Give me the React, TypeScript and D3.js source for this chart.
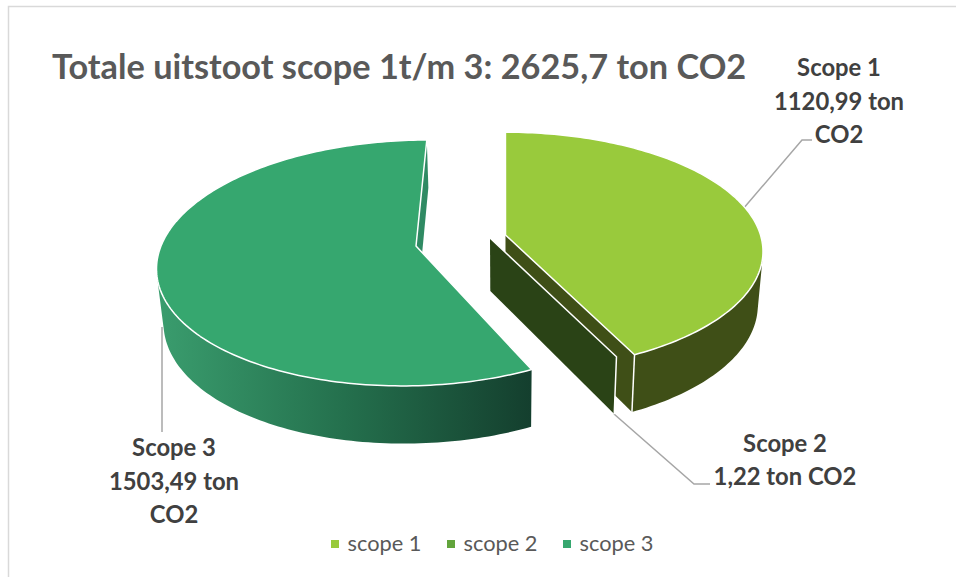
import React from "react";
import * as d3 from "d3";

const categories = ["scope 1", "scope 2", "scope 3"];
const values = [1120.99, 1.22, 1503.49];
const titleText = "Totale uitstoot scope 1t/m 3: 2625,7 ton CO2";
const dataLabels = [
  ["Scope 1", "1120,99 ton", "CO2"],
  ["Scope 2", "1,22 ton CO2"],
  ["Scope 3", "1503,49 ton", "CO2"],
];
const legendColors = ["#99ca3c", "#62a43c", "#36a76f"];

const W = 956;
const H = 577;
const FONT = "Lato, Carlito, 'Open Sans', sans-serif";
const RADIUS = 255;
const PERSPECTIVE = 0.138;
const VANISH_X = 505;
const BOTTOM_SCALE = 0.98;

// Placement of each exploded slice: apex on screen and vertical radius.
const sliceFrames = [
  { ax: 505.5, ay: 235, ky: 117 },
  { ax: 490, ay: 238, ky: 116 },
  { ax: 416, ay: 246, ky: 120.6 },
];

type Frame = { ax: number; ay: number; ky: number };
type Pt = [number, number];

function project(f: Frame, theta: number, r: number, bottom: boolean): Pt {
  const u = Math.sin(theta) * r;
  const v = -Math.cos(theta) * r;
  const s = (1 / (1 - PERSPECTIVE * v)) * (bottom ? BOTTOM_SCALE : 1);
  const x = VANISH_X + (f.ax - VANISH_X + RADIUS * u) * s;
  const depth = bottom ? 53 + 7.5 * v : 0;
  const y = f.ay + f.ky * v * s + depth;
  return [x, y];
}

const pathOf = d3.line<Pt>().x((d) => d[0]).y((d) => d[1]);

function rim(f: Frame, a0: number, a1: number, bottom: boolean): Pt[] {
  const n = Math.max(2, Math.ceil(Math.abs(a1 - a0) / 0.02));
  const t = d3.scaleLinear().domain([0, n]).range([a0, a1]);
  return d3.range(n + 1).map((i) => project(f, t(i), 1, bottom));
}

// The side wall is swept between the two rims, so its silhouette includes the tangent edge.
// All quads share one path and one winding, so no seams appear between them.
function sidePath(f: Frame, a0: number, a1: number): string {
  const top = rim(f, a0, a1, false);
  const bot = rim(f, a0, a1, true);
  return d3
    .range(top.length - 1)
    .map((i) => {
      const q: Pt[] = [top[i], top[i + 1], bot[i + 1], bot[i]];
      return pathOf(d3.polygonArea(q) < 0 ? q.reverse() : q)! + "Z";
    })
    .join("");
}

const arcs = d3.pie<number>().sort(null).value((d) => d)(values);

export default function App() {
  const [s1, s2, s3] = arcs;
  const [f1, f2, f3] = sliceFrames;

  const top1 = [project(f1, 0, 0, false), ...rim(f1, s1.startAngle, s1.endAngle, false)];
  const side1 = sidePath(f1, Math.PI / 2 - 0.5, s1.endAngle);
  const face1: Pt[] = [
    project(f1, s1.endAngle, 0, false),
    project(f1, s1.endAngle, 1, false),
    project(f1, s1.endAngle, 1, true),
    project(f1, s1.endAngle, 0, true),
  ];
  const back1: Pt[] = [
    project(f1, s1.startAngle, 0, false),
    project(f1, s1.startAngle, 1, false),
    project(f1, s1.startAngle, 1, true),
    project(f1, s1.startAngle, 0, true),
  ];

  const a2 = (s2.startAngle + s2.endAngle) / 2;
  const face2: Pt[] = [
    project(f2, a2, 0, false),
    project(f2, a2, 1, false),
    project(f2, a2, 1, true),
    project(f2, a2, 0, true),
  ];

  const top3 = [project(f3, 0, 0, false), ...rim(f3, s3.startAngle, s3.endAngle, false)];
  const side3 = sidePath(f3, s3.startAngle, Math.PI * 1.5 + 0.35);
  const face3: Pt[] = [
    project(f3, s3.endAngle, 0, false),
    project(f3, s3.endAngle, 1, false),
    project(f3, s3.endAngle, 1, true),
    project(f3, s3.endAngle, 0, true),
  ];

  const labelStyle = { fontFamily: FONT, fontWeight: 700, fontSize: 23.8, fill: "#404040", textAnchor: "middle" as const };
  const labelPos = [
    { x: 839, ys: [76, 110, 143] },
    { x: 785, ys: [452, 485] },
    { x: 174, ys: [456, 490, 523] },
  ];
  const legendX = [331, 447, 563];

  return (
    <svg width={W} height={H} style={{ position: "absolute", left: 0, top: 0, background: "#fff" }}>
      <defs>
        <linearGradient id="side3" gradientUnits="userSpaceOnUse" x1={157} x2={531} y1={0} y2={0}>
          <stop offset="0" stopColor="#3a9d6e" />
          <stop offset="0.5" stopColor="#24704d" />
          <stop offset="1" stopColor="#143f2e" />
        </linearGradient>
      </defs>
      <path d={`M8.5 ${H}V6.5H${W}`} fill="none" stroke="#d9d9d9" strokeWidth={1.5} />

      <text x={52} y={79} fontFamily={FONT} fontWeight={700} fontSize={34.3} fill="#595959">
        {titleText}
      </text>

      {/* leader lines */}
      <path d="M743 209L802 140H812" fill="none" stroke="#a6a6a6" strokeWidth={1.5} />
      <path d="M614 414L694 484H710" fill="none" stroke="#a6a6a6" strokeWidth={1.5} />

      {/* scope 3 */}
      <path d={pathOf(face3)! + "Z"} fill="#2f8a63" />
      <path d={side3} fill="url(#side3)" />
      <path d={pathOf(top3)! + "Z"} fill={legendColors[2]} stroke="#fff" strokeWidth={1.5} strokeLinejoin="round" />
      <path d="M162 327V432" fill="none" stroke="#a6a6a6" strokeWidth={1.5} />

      {/* scope 1 */}
      <path d={pathOf(back1)! + "Z"} fill="#c9cfc2" />
      <path d={pathOf(face1)! + "Z"} fill="#3f4f17" />
      <path d={side1} fill="#3f4f17" />
      <path d={pathOf([project(f1, s1.endAngle, 1, false), project(f1, s1.endAngle, 1, true)])!} stroke="#fff" strokeWidth={1.5} fill="none" />
      <path d={pathOf(top1)! + "Z"} fill={legendColors[0]} stroke="#fff" strokeWidth={1.5} strokeLinejoin="round" />

      {/* scope 2 */}
      <path d={pathOf(face2)! + "Z"} fill="#2a4316" />
      <path d={pathOf(face2.slice(0, 3))!} fill="none" stroke="#fff" strokeWidth={1.5} />

      {/* data labels */}
      {dataLabels.map((lines, i) =>
        lines.map((t, j) => (
          <text key={`${i}-${j}`} x={labelPos[i].x} y={labelPos[i].ys[j]} {...labelStyle}>
            {t}
          </text>
        ))
      )}

      {/* legend */}
      {categories.map((c, i) => (
        <g key={c}>
          <rect x={legendX[i]} y={540} width={8} height={8} fill={legendColors[i]} />
          <text x={legendX[i] + 16.5} y={551} fontFamily={FONT} fontSize={21.8} fill="#595959">
            {c}
          </text>
        </g>
      ))}
    </svg>
  );
}
